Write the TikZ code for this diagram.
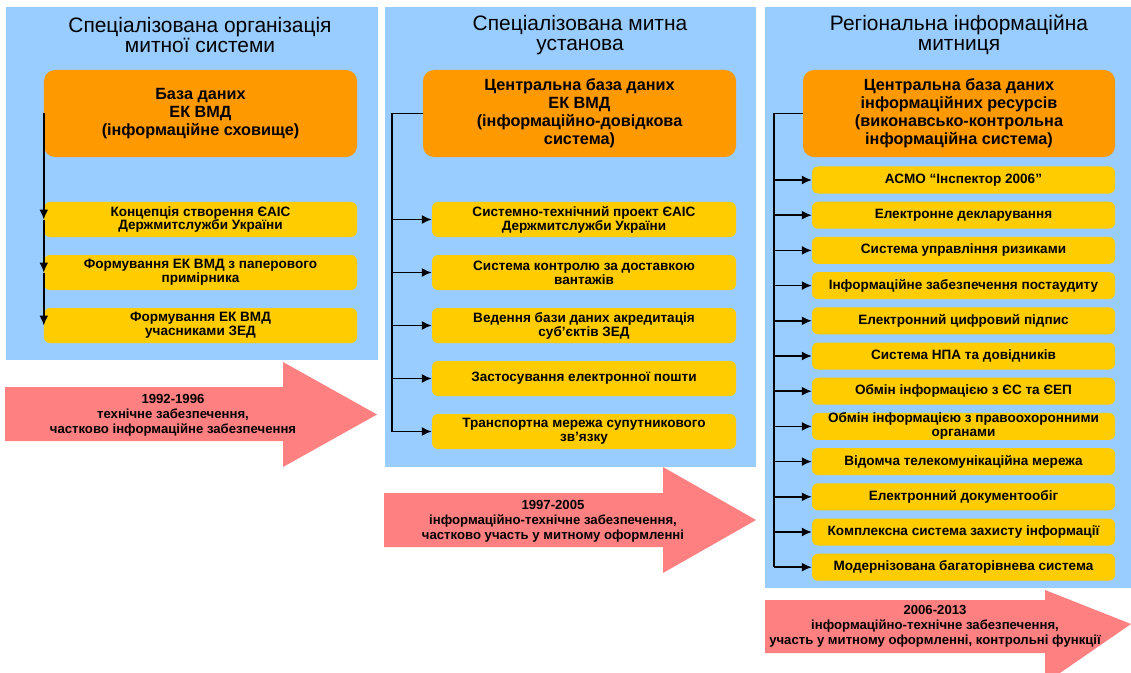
\documentclass[tikz,border=0pt]{standalone}
\usepackage{fontspec}
\setmainfont{Liberation Sans}
\usetikzlibrary{arrows.meta}

\definecolor{panelblue}{RGB}{153,204,255}
\definecolor{dborange}{RGB}{255,153,0}
\definecolor{itemyellow}{RGB}{255,204,0}
\definecolor{periodred}{RGB}{255,128,128}

\tikzset{
  paneltitle/.style={align=center, font=\fontsize{21}{20.5}\selectfont},
  dbbox/.style={fill=dborange, rounded corners=11bp, minimum width=313bp, minimum height=87bp,
    align=center, font=\bfseries\fontsize{16.3}{18}\selectfont},
  itembox/.style={fill=itemyellow, rounded corners=6bp, align=center, inner sep=0pt,
    font=\bfseries\fontsize{13.6}{14}\selectfont},
  itemA/.style={itembox, minimum width=313bp, minimum height=35bp},
  itemB/.style={itembox, minimum width=304bp, minimum height=35bp},
  itemC/.style={itembox, minimum width=303bp, minimum height=27bp},
  periodtext/.style={align=center, font=\bfseries\fontsize{13.2}{15}\selectfont},
  conn/.style={line width=1.6bp, -{Latex[length=10bp,width=9bp]}},
  plain/.style={line width=1.6bp}
}

\begin{document}
\begin{tikzpicture}[x=1bp,y=-1bp]
                  \useasboundingbox (0,0) rectangle (1131,673);

                  % Draw the three panels
                  \fill[panelblue] (6,7) rectangle (378,360);
                  \fill[panelblue] (385,7) rectangle (756,467);
                  \fill[panelblue] (765,7) rectangle (1131,588);

                  % Panel titles
                  \node[paneltitle] (tA) at (200,35) {Спеціалізована організація\\митної системи};
                  \node[paneltitle] (tB) at (580,35) {Спеціалізована митна\\установа};
                  \node[paneltitle] (tC) at (959,35) {Регіональна інформаційна\\митниця};

                  % Databases
                  \node[dbbox] (dbA) at (200.5,113.5) {База даних\\ЕК ВМД\\(інформаційне сховище)};
                  \node[dbbox] (dbB) at (579.5,113.5) {Центральна база даних\\ЕК ВМД\\(інформаційно-довідкова\\система)};
                  \node[dbbox, minimum width=312bp] (dbC) at (959,113.5) {Центральна база даних\\інформаційних ресурсів\\(виконавсько-контрольна\\інформаційна система)};

                  % Items of the first panel
                  \node[itemA] (a1) at (200.5,219.5) {Концепція створення ЄАІС\\Держмитслужби України};
                  \node[itemA] (a2) at (200.5,272.5) {Формування ЕК ВМД з паперового\\примірника};
                  \node[itemA] (a3) at (200.5,325.5) {Формування ЕК ВМД\\учасниками ЗЕД};

                  % Items of the second panel
                  \node[itemB] (b1) at (584,219.5) {Системно-технічний проект ЄАІС\\Держмитслужби України};
                  \node[itemB] (b2) at (584,272.5) {Система контролю за доставкою\\вантажів};
                  \node[itemB] (b3) at (584,325.5) {Ведення бази даних акредитація\\суб’єктів ЗЕД};
                  \node[itemB] (b4) at (584,378.5) {Застосування електронної пошти};
                  \node[itemB] (b5) at (584,431.5) {Транспортна мережа супутникового\\зв’язку};

                  % Items of the third panel
                  \node[itemC] (c1) at (963.5,180) {АСМО “Інспектор 2006”};
                  \node[itemC] (c2) at (963.5,215.2) {Електронне декларування};
                  \node[itemC] (c3) at (963.5,250.4) {Система управління ризиками};
                  \node[itemC] (c4) at (963.5,285.6) {Інформаційне забезпечення постаудиту};
                  \node[itemC] (c5) at (963.5,320.8) {Електронний цифровий підпис};
                  \node[itemC] (c6) at (963.5,356) {Система НПА та довідників};
                  \node[itemC] (c7) at (963.5,391.2) {Обмін інформацією з ЄС та ЄЕП};
                  \node[itemC] (c8) at (963.5,426.4) {Обмін інформацією з правоохоронними\\органами};
                  \node[itemC] (c9) at (963.5,461.6) {Відомча телекомунікаційна мережа};
                  \node[itemC] (c10) at (963.5,496.8) {Електронний документообіг};
                  \node[itemC] (c11) at (963.5,532) {Комплексна система захисту інформації};
                  \node[itemC] (c12) at (963.5,567.2) {Модернізована багаторівнева система};

                  % Connectors of the first panel
                  \draw[conn] (dbA.west) -- (a1.west);
                  \draw[conn] (a1.west) -- (a2.west);
                  \draw[conn] (a2.west) -- (a3.west);

                  % Connectors of the second panel
                  \coordinate (jB) at (392,113.5);
                  \draw[plain] (dbB.west) -- (jB) -- (jB |- b5.west);
                  \foreach \n in {b1,b2,b3,b4,b5}
                    \draw[conn] (jB |- \n.west) -- (\n.west);

                  % Connectors of the third panel
                  \coordinate (jC) at (774,113.5);
                  \draw[plain] (dbC.west) -- (jC) -- (jC |- c12.west);
                  \foreach \n in {c1,c2,c3,c4,c5,c6,c7,c8,c9,c10,c11,c12}
                    \draw[conn] (jC |- \n.west) -- (\n.west);

                  % Period arrows
                  \fill[periodred] (5,387) -- (283,387) -- (283,362) -- (377,414.5)
                    -- (283,467) -- (283,441) -- (5,441) -- cycle;
                  \node[periodtext] (pA) at (173,415) {1992-1996\\технічне забезпечення,\\частково інформаційне забезпечення};

                  \fill[periodred] (384,493) -- (663,493) -- (663,467) -- (756,520)
                    -- (663,573) -- (663,547) -- (384,547) -- cycle;
                  \node[periodtext] (pB) at (553,521) {1997-2005\\інформаційно-технічне забезпечення,\\частково участь у митному оформленні};

                  \fill[periodred] (765,600) -- (1045,600) -- (1045,590) -- (1131,624)
                    -- (1060,673) -- (1045,673) -- (1045,653) -- (765,653) -- cycle;
                  \node[periodtext] (pC) at (935,626) {2006-2013\\інформаційно-технічне забезпечення,\\участь у митному оформленні, контрольні функції};

              \end{tikzpicture}
\end{document}
